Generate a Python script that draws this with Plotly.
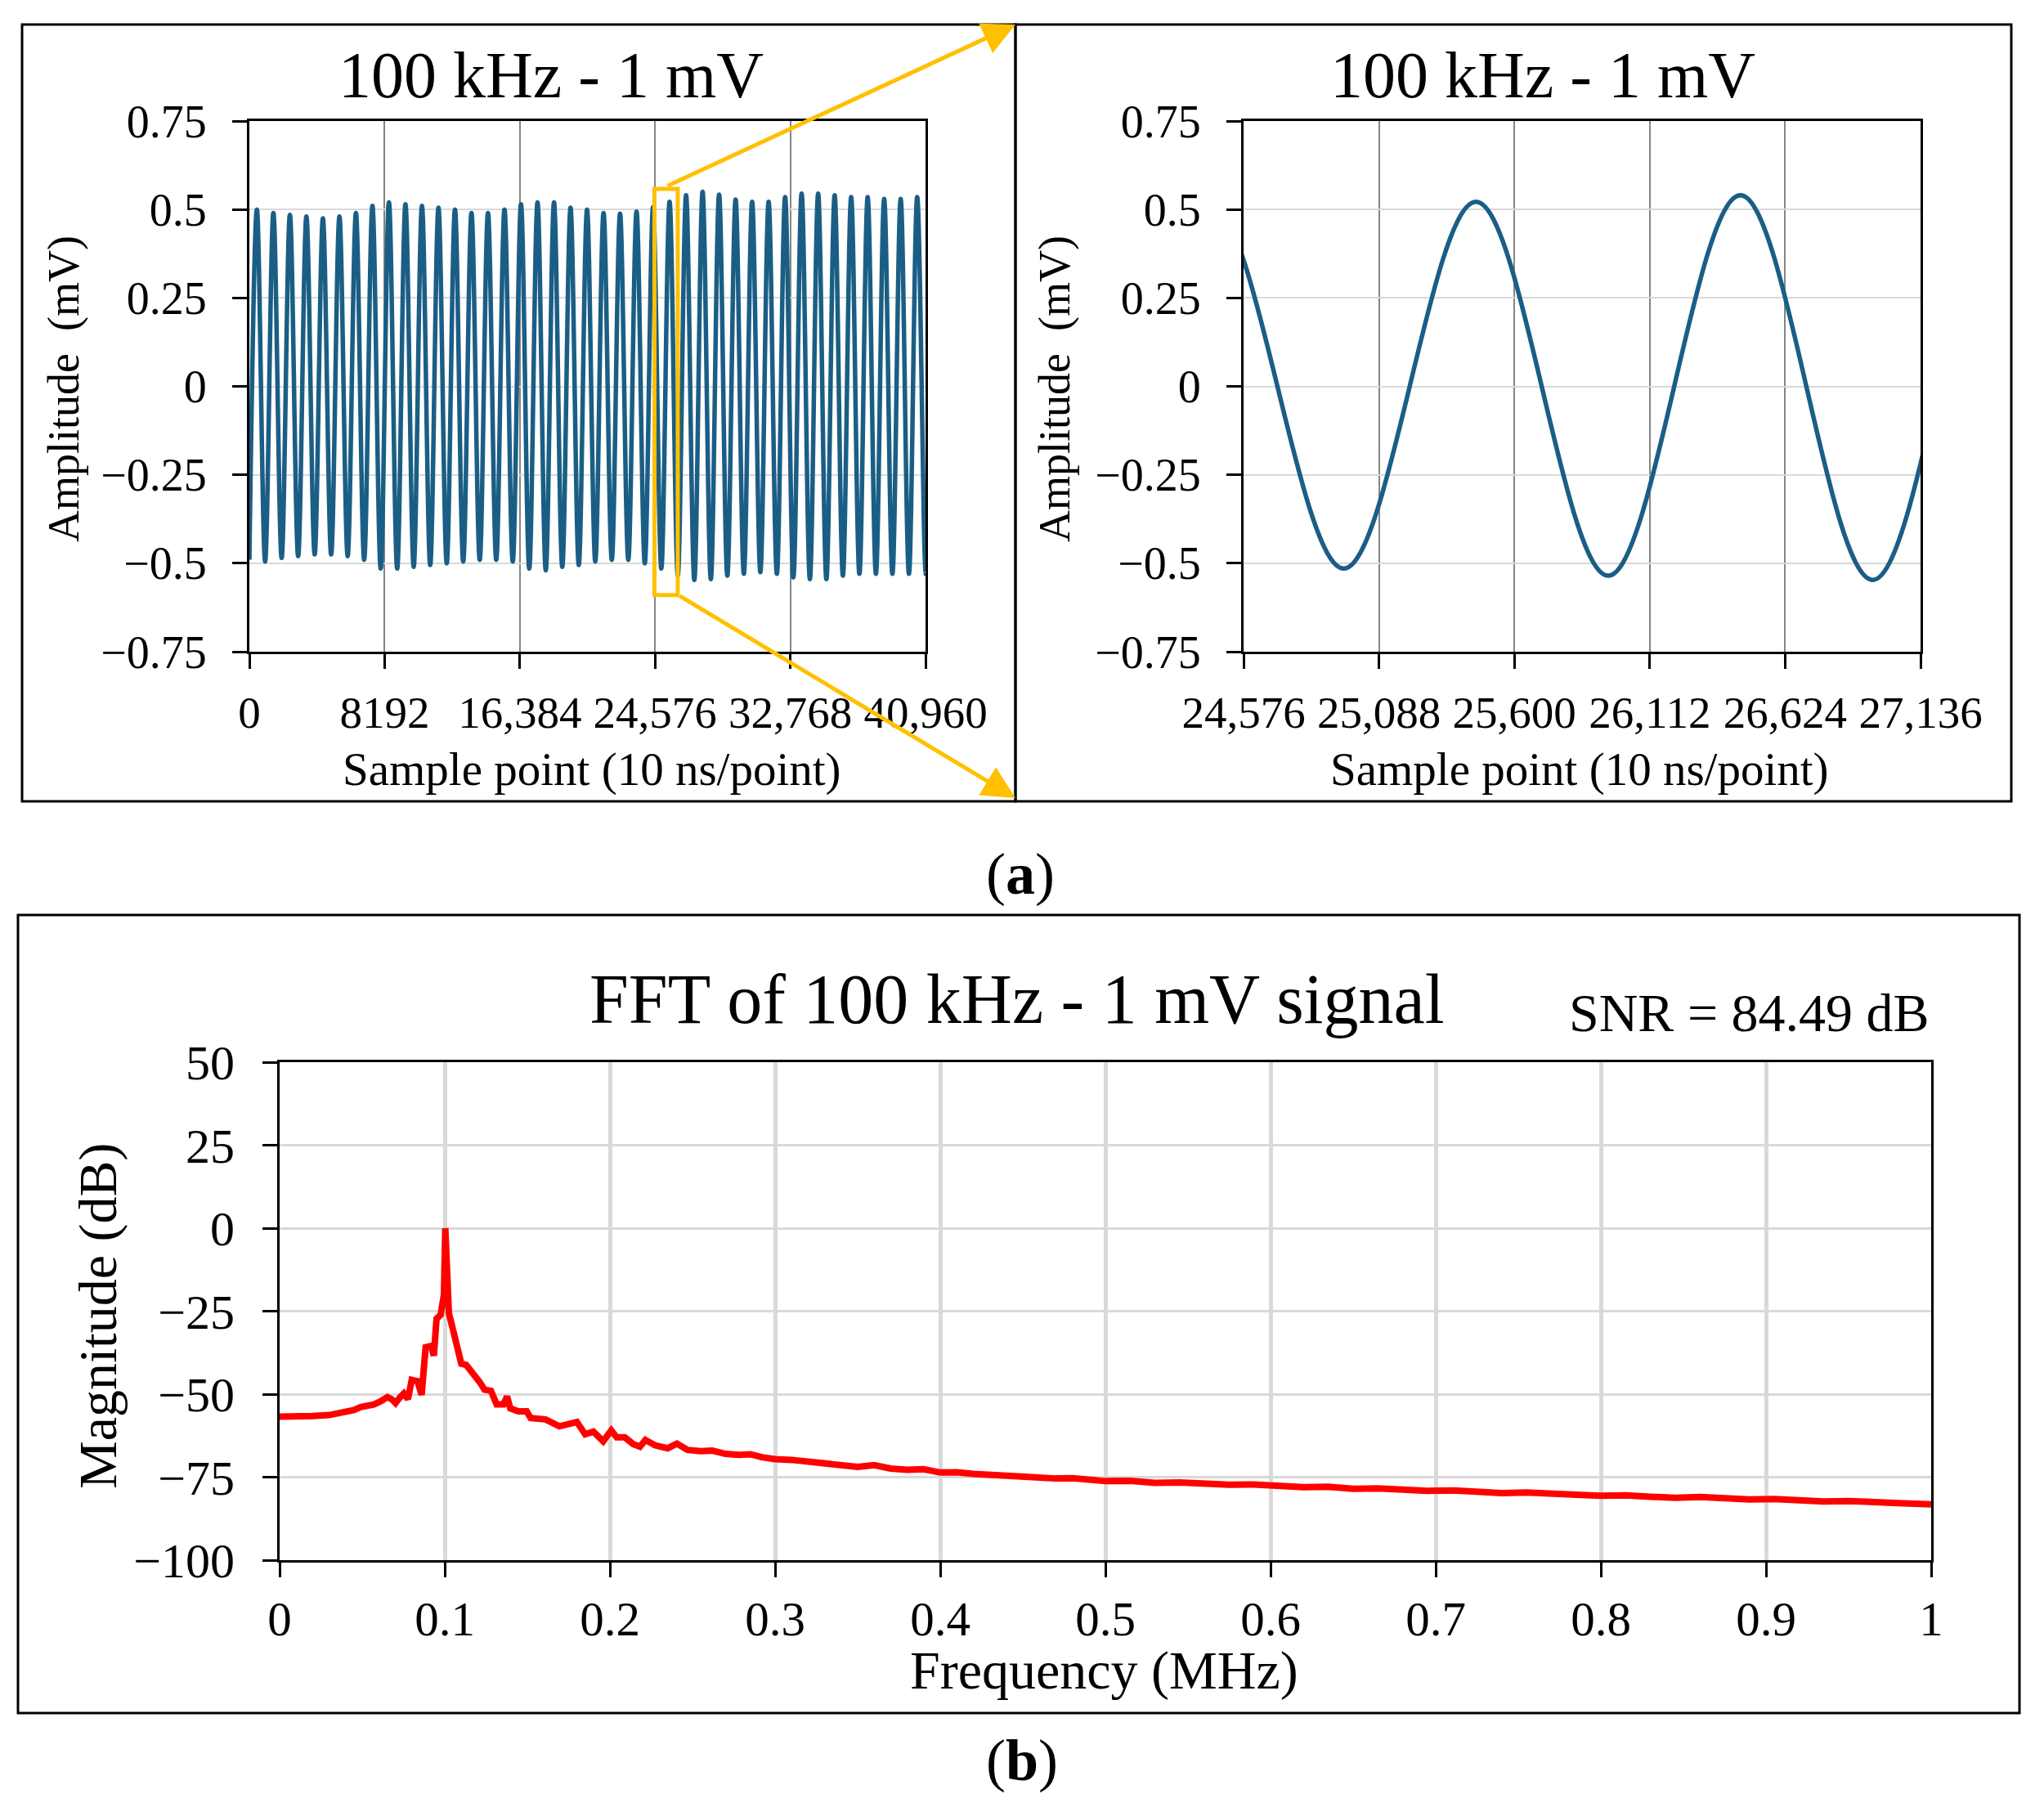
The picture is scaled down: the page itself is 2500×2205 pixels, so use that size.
import plotly.graph_objects as go

W, H = 2500, 2205
PAGE_PAD = 8  # the page body adds 8 px round the figure
FONT = "Liberation Serif"
WAVE_COLOR = "#1b5e85"
ZOOM_COLOR = "#ffc000"

# --- (a) time-domain trace: extrema of each cycle ---
start_x, start_mv = 0, -0.49
end_x, end_mv = 40960, -0.53

peak_x = [455, 1455, 2455, 3455, 4455, 5455, 6455, 7455, 8455, 9455,
          10455, 11455, 12455, 13455, 14455, 15455, 16455, 17455, 18455, 19455,
          20455, 21455, 22455, 23455, 24455, 25455, 26455, 27455, 28455, 29455,
          30455, 31455, 32455, 33455, 34455, 35455, 36455, 37455, 38455, 39455,
          40455]
peak_mv = [0.50, 0.49, 0.485, 0.48, 0.475, 0.48, 0.49, 0.51, 0.52, 0.515,
           0.51, 0.505, 0.50, 0.49, 0.49, 0.50, 0.515, 0.52, 0.52, 0.505,
           0.50, 0.49, 0.488, 0.494, 0.507, 0.522, 0.54, 0.55, 0.542, 0.528,
           0.522, 0.522, 0.535, 0.545, 0.545, 0.54, 0.535, 0.535, 0.53, 0.53,
           0.535]

trough_x = [955, 1955, 2955, 3955, 4955, 5955, 6955, 7955, 8955, 9955,
            10955, 11955, 12955, 13955, 14955, 15955, 16955, 17955, 18955, 19955,
            20955, 21955, 22955, 23955, 24955, 25955, 26955, 27955, 28955, 29955,
            30955, 31955, 32955, 33955, 34955, 35955, 36955, 37955, 38955, 39955,
            40955]
trough_mv = [-0.495, -0.485, -0.48, -0.475, -0.475, -0.48, -0.49, -0.515, -0.515, -0.51,
             -0.505, -0.50, -0.495, -0.49, -0.49, -0.495, -0.515, -0.52, -0.51, -0.505,
             -0.495, -0.49, -0.49, -0.50, -0.515, -0.535, -0.547, -0.545, -0.535, -0.53,
             -0.525, -0.53, -0.54, -0.545, -0.545, -0.535, -0.53, -0.53, -0.53, -0.53,
             -0.53]

left_xticks = [0, 8192, 16384, 24576, 32768, 40960]
left_xlabels = ["0", "8192", "16,384", "24,576", "32,768", "40,960"]
right_xticks = [24576, 25088, 25600, 26112, 26624, 27136]
right_xlabels = ["24,576", "25,088", "25,600", "26,112", "26,624", "27,136"]
amp_ticks = [-0.75, -0.5, -0.25, 0, 0.25, 0.5, 0.75]
amp_labels = ["\u22120.75", "\u22120.5", "\u22120.25", "0", "0.25", "0.5", "0.75"]

# --- (b) FFT magnitude ---
fft_mhz = [0, 0.01, 0.02, 0.03, 0.034, 0.04, 0.045, 0.049, 0.053, 0.057,
           0.061, 0.0653, 0.068, 0.0702, 0.073, 0.0752, 0.0777, 0.080, 0.0835, 0.086,
           0.0884, 0.0917, 0.0934, 0.095, 0.0975, 0.0995, 0.1003, 0.1012, 0.1025, 0.105,
           0.11, 0.113, 0.118, 0.1215, 0.124, 0.128, 0.1314, 0.1355, 0.1377, 0.1397,
           0.1446, 0.1496, 0.152, 0.161, 0.1694, 0.1777, 0.18, 0.185, 0.19, 0.1959,
           0.2008, 0.2041, 0.209, 0.214, 0.2182, 0.2215, 0.2273, 0.235, 0.2406, 0.247,
           0.255, 0.262, 0.27, 0.278, 0.285, 0.292, 0.30, 0.31, 0.32, 0.33,
           0.34, 0.35, 0.36, 0.37, 0.38, 0.39, 0.40, 0.41, 0.42, 0.43,
           0.44, 0.45, 0.46, 0.47, 0.48, 0.49, 0.50, 0.515, 0.53, 0.545,
           0.56, 0.575, 0.59, 0.605, 0.62, 0.635, 0.65, 0.665, 0.68, 0.695,
           0.71, 0.725, 0.74, 0.755, 0.77, 0.785, 0.80, 0.815, 0.83, 0.845,
           0.86, 0.875, 0.89, 0.905, 0.92, 0.935, 0.95, 0.965, 0.98, 1.0]
fft_db = [-56.8, -56.8, -56.6, -56.3, -56.0, -55.4, -54.8, -53.9, -53.6, -53.1,
          -52.2, -50.9, -51.6, -52.7, -50.9, -49.8, -51.5, -45.7, -46.1, -50.2,
          -35.9, -35.5, -38.4, -27.3, -26.1, -20.0, 0.0, -18.0, -25.7, -30.6,
          -40.8, -41.2, -44.1, -46.6, -48.6, -49.0, -53.1, -53.1, -50.7, -54.3,
          -55.2, -55.2, -57.2, -57.6, -59.7, -58.9, -58.4, -62.1, -61.3, -64.2,
          -60.9, -63.0, -63.0, -65.0, -65.8, -63.8, -65.4, -66.3, -64.9, -66.8,
          -67.2, -67.0, -68.0, -68.3, -68.1, -69.0, -69.6, -69.8, -70.4, -70.6,
          -71.2, -71.9, -71.4, -72.4, -72.8, -72.6, -73.6, -73.5, -74.0, -74.3,
          -74.2, -74.9, -74.8, -75.4, -75.3, -75.9, -76.2, -76.1, -76.7, -76.6,
          -77.1, -77.3, -77.2, -77.8, -78.0, -77.9, -78.5, -78.4, -78.9, -79.1,
          -79.0, -79.5, -79.8, -79.6, -80.1, -80.3, -80.6, -80.5, -80.9, -81.2,
          -81.0, -81.5, -81.7, -81.6, -82.1, -82.3, -82.2, -82.7, -82.8, -83.2]

freq_ticks = [0, 0.1, 0.2, 0.3, 0.4, 0.5, 0.6, 0.7, 0.8, 0.9, 1.0]
freq_labels = ["0", "0.1", "0.2", "0.3", "0.4", "0.5", "0.6", "0.7", "0.8", "0.9", "1"]
db_ticks = [-100, -75, -50, -25, 0, 25, 50]
db_labels = ["\u2212100", "\u221275", "\u221250", "\u221225", "0", "25", "50"]

FIG_W, FIG_H = W - PAGE_PAD, H - PAGE_PAD


def px(x):
    # window pixel -> paper fraction
    return (x - PAGE_PAD) / FIG_W


def py(y):
    return 1 - (y - PAGE_PAD) / FIG_H


# peaks and troughs alternate along the trace
wave_x = [start_x]
wave_y = [start_mv]
for i in range(len(peak_x)):
    wave_x += [peak_x[i], trough_x[i]]
    wave_y += [peak_mv[i], trough_mv[i]]
wave_x.append(end_x)
wave_y.append(end_mv)

fig = go.Figure()

for xa, ya in (("x", "y"), ("x2", "y2")):
    fig.add_trace(go.Scatter(
        x=wave_x, y=wave_y, xaxis=xa, yaxis=ya,
        mode="lines",
        line=dict(color=WAVE_COLOR, width=5.5, shape="spline", smoothing=1),
        showlegend=False, hoverinfo="skip"
    ))

fig.add_trace(go.Scatter(
    x=fft_mhz, y=fft_db, xaxis="x3", yaxis="y3",
    mode="lines",
    line=dict(color="#ff0000", width=8),
    showlegend=False, hoverinfo="skip"
))


def frame(size):
    return dict(
        showline=True, linecolor="black", linewidth=3, mirror=True,
        ticks="outside", ticklen=18, tickwidth=3, tickcolor="black",
        showgrid=True, zeroline=False, automargin=False,
        tickfont=dict(family=FONT, size=size, color="black"),
    )


fig.update_layout(
    width=FIG_W, height=FIG_H,
    margin=dict(l=0, r=0, t=0, b=0, pad=0, autoexpand=False),
    paper_bgcolor="white", plot_bgcolor="white",
    font=dict(family=FONT, color="black"),
    xaxis=dict(frame(55), domain=[px(305), px(1132)], anchor="y",
               range=[0, 40960], tickvals=left_xticks, ticktext=left_xlabels,
               gridcolor="#858585", gridwidth=2, ticklabelstandoff=6),
    yaxis=dict(frame(56), domain=[py(797), py(148)], anchor="x",
               range=[-0.75, 0.75], tickvals=amp_ticks, ticktext=amp_labels,
               gridcolor="#d9d9d9", gridwidth=2, ticklabelstandoff=20),
    xaxis2=dict(frame(55), domain=[px(1521), px(2349)], anchor="y2",
                range=[24576, 27136], tickvals=right_xticks, ticktext=right_xlabels,
                gridcolor="#858585", gridwidth=2, ticklabelstandoff=6),
    yaxis2=dict(frame(56), domain=[py(797), py(148)], anchor="x2",
                range=[-0.75, 0.75], tickvals=amp_ticks, ticktext=amp_labels,
                gridcolor="#d9d9d9", gridwidth=2, ticklabelstandoff=20),
    xaxis3=dict(frame(59), domain=[px(342), px(2362)], anchor="y3",
                range=[0, 1], tickvals=freq_ticks, ticktext=freq_labels,
                gridcolor="#d9d9d9", gridwidth=5),
    yaxis3=dict(frame(60), domain=[py(1908), py(1299)], anchor="x3",
                range=[-100, 50], tickvals=db_ticks, ticktext=db_labels,
                gridcolor="#d9d9d9", gridwidth=3, ticklabelstandoff=22),
)

# panel borders
shapes = []
for x0, y0, x1, y1 in ((27, 30, 1242, 980), (1242, 30, 2460, 980), (22, 1119, 2470, 2095)):
    shapes.append(dict(type="rect", xref="paper", yref="paper",
                       x0=px(x0), x1=px(x1), y0=py(y1), y1=py(y0),
                       line=dict(color="black", width=3), fillcolor="rgba(0,0,0,0)"))
# zoom window on the left trace
shapes.append(dict(type="rect", xref="x", yref="y", x0=24540, x1=25950, y0=-0.59, y1=0.558,
                   line=dict(color=ZOOM_COLOR, width=5), layer="above"))
fig.update_layout(shapes=shapes)

annotations = []


def label(text, x, y, size, angle=0, xanchor="center"):
    annotations.append(dict(text=text, x=px(x), y=py(y), xref="paper", yref="paper",
                            showarrow=False, textangle=angle, xanchor=xanchor, yanchor="middle",
                            font=dict(family=FONT, size=size, color="black")))


label("100 kHz - 1 mV", 674, 92, 80)
label("100 kHz - 1 mV", 1887, 92, 80)
label("Amplitude  (mV)", 78, 476, 54, angle=-90)
label("Amplitude  (mV)", 1290, 476, 54, angle=-90)
label("Sample point (10 ns/point)", 724, 941, 57)
label("Sample point (10 ns/point)", 1932, 941, 57)
label("(<b>a</b>)", 1248, 1069, 72)
label("FFT of 100 kHz - 1 mV signal", 1244, 1222, 86)
label("SNR = 84.49 dB", 2362, 1238, 66, xanchor="right")
label("Magnitude (dB)", 120, 1610, 66, angle=-90)
label("Frequency (MHz)", 1350, 2043, 66)
label("(<b>b</b>)", 1250, 2153, 72)

# arrows from the zoom window to the enlarged panel
for tip, tail in (((1242, 30), (815, 228)), ((1242, 976), (830, 728))):
    annotations.append(dict(text="", x=px(tip[0]), y=py(tip[1]), xref="paper", yref="paper",
                            ax=tail[0] - tip[0], ay=tail[1] - tip[1],
                            showarrow=True, arrowhead=2, arrowsize=1.6, arrowwidth=5,
                            arrowcolor=ZOOM_COLOR))
fig.update_layout(annotations=annotations)

fig.write_html("out.html")
